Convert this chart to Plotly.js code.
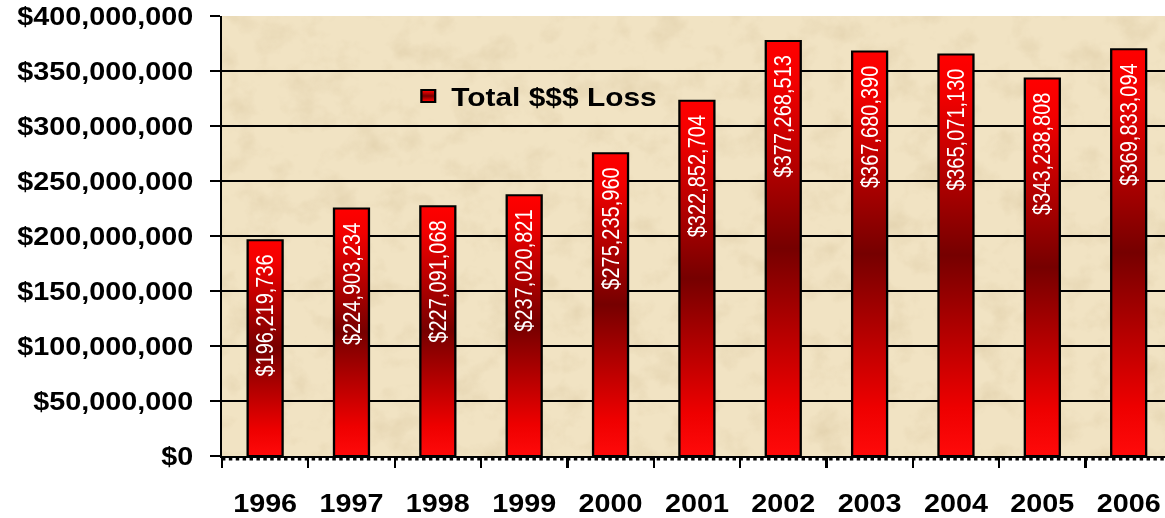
<!DOCTYPE html>
<html><head><meta charset="utf-8">
<script src="https://cdn.plot.ly/plotly-3.0.1.min.js"></script>
<style>
html,body{margin:0;padding:0;overflow:hidden;background:#fff;width:1165px;height:518px}
#chart{width:1029px;height:518px;transform:scaleX(1.15);transform-origin:0 0;}
</style>
</head><body><div id="chart"></div>
<script>
const years = ['1996','1997','1998','1999','2000','2001','2002','2003','2004','2005','2006'];
const losses = [196219736, 224903234, 227091068, 237020821, 275235960, 322852704, 377268513, 367680390, 365071130, 343238808, 369833094];
const seriesName = 'Total $$$ Loss';
const yTicks = [0, 50000000, 100000000, 150000000, 200000000, 250000000, 300000000, 350000000, 400000000];

const FONT = 'Arial, "Liberation Sans", sans-serif';

const texture = 'data:image/svg+xml;utf8,' + encodeURIComponent(
  '<svg xmlns="http://www.w3.org/2000/svg" width="826" height="440">' +
  '<filter id="n"><feTurbulence type="fractalNoise" baseFrequency="0.035" numOctaves="4" seed="7"/>' +
  '<feColorMatrix type="matrix" values="0 0 0 0 0.55  0 0 0 0 0.42  0 0 0 0 0.22  0 0 0 1.6 -0.75"/></filter>' +
  '<rect width="100%" height="100%" filter="url(#n)"/></svg>');

const trace = {
  type: 'bar',
  x: years,
  y: losses,
  name: seriesName,
  showlegend: true,
  marker: {color: '#ff0000', line: {color: '#000000', width: 2}},
  texttemplate: '%{y:$,.0f}\u00a0\u00a0',
  textposition: 'inside',
  insidetextanchor: 'end',
  textangle: -90,
  constraintext: 'none',
  insidetextfont: {family: FONT, size: 20, color: '#ffffff'},
  hoverinfo: 'skip'
};

const layout = {
  width: 1029, height: 518,
  margin: {l: 193, r: 10, t: 16, b: 62},
  paper_bgcolor: '#ffffff',
  plot_bgcolor: '#f1e3c3',
  bargap: 0.595,
  showlegend: true,
  legend: {
    x: 0.193, y: 0.818, xanchor: 'left', yanchor: 'middle',
    bgcolor: 'rgba(0,0,0,0)', borderwidth: 0,
    font: {family: FONT, size: 26, color: '#000', weight: 'bold'},
    itemwidth: 30
  },
  images: [{
    source: texture, xref: 'paper', yref: 'paper',
    x: 0, y: 1, sizex: 1, sizey: 1, xanchor: 'left', yanchor: 'top',
    sizing: 'stretch', layer: 'below', opacity: 0.35
  }],
  xaxis: {
    type: 'category',
    tickson: 'boundaries',
    ticks: 'outside', ticklen: 10, tickwidth: 2, tickcolor: '#000',
    showline: true, linecolor: '#000', linewidth: 2,
    showgrid: false, zeroline: false,
    ticklabelstandoff: 24,
    tickfont: {family: FONT, size: 25, color: '#000', weight: 'bold'},
    range: [-0.5, 10.5], fixedrange: true
  },
  yaxis: {
    range: [0, 400000000],
    tickvals: yTicks,
    tickformat: '$,.0f',
    ticks: 'outside', ticklen: 8, tickwidth: 2, tickcolor: '#000',
    showline: true, linecolor: '#000', linewidth: 2,
    showgrid: true, gridcolor: '#000', gridwidth: 1.5,
    zeroline: false,
    ticklabelstandoff: 10,
    tickfont: {family: FONT, size: 25, color: '#000', weight: 'bold'},
    fixedrange: true
  },
  shapes: [{
    type: 'line', xref: 'paper', yref: 'paper', ysizemode: 'pixel', yanchor: 0,
    x0: 0, x1: 1, y0: -3, y1: -3,
    line: {color: '#000', width: 3, dash: 'dot'}
  }]
};

Plotly.newPlot('chart', [trace], layout, {staticPlot: true, displayModeBar: false}).then(function(gd){
  const svg = gd.querySelector('svg.main-svg');
  const ns = 'http://www.w3.org/2000/svg';
  let defs = svg.querySelector('defs');
  if (!defs) { defs = document.createElementNS(ns, 'defs'); svg.insertBefore(defs, svg.firstChild); }
  const grad = document.createElementNS(ns, 'linearGradient');
  grad.setAttribute('id', 'barGrad');
  grad.setAttribute('x1', '0'); grad.setAttribute('y1', '0');
  grad.setAttribute('x2', '0'); grad.setAttribute('y2', '1');
  [[0,'#ff0000'],[0.1,'#f20000'],[0.5,'#760000'],[0.88,'#ee0000'],[1,'#ff0a0a']].forEach(function(s){
    const st = document.createElementNS(ns, 'stop');
    st.setAttribute('offset', s[0]);
    st.setAttribute('stop-color', s[1]);
    grad.appendChild(st);
  });
  defs.appendChild(grad);
  gd.querySelectorAll('.bars .point path, .legendpoints path').forEach(function(p){
    p.style.fill = 'url(#barGrad)';
  });
});
</script>
</body></html>
